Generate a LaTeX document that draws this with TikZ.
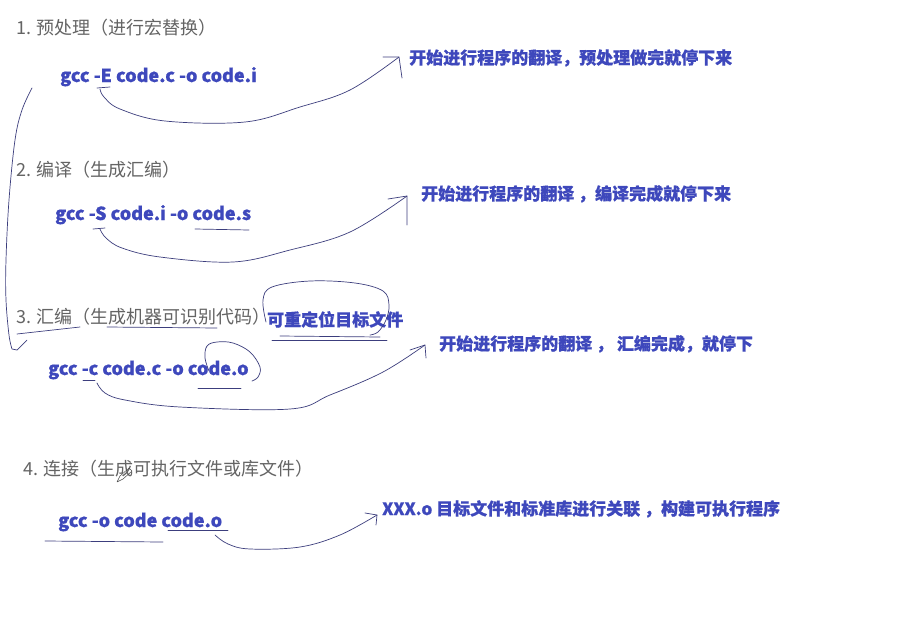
\documentclass[tikz,border=0pt]{standalone}
\usepackage{fontspec}
\setmainfont{Noto Sans CJK SC}[BoldFeatures={FakeBold=0.6}]
\usepackage{xcolor}
\usepackage{tikz}

\begin{document}
\begin{tikzpicture}[x=1pt,y=-1pt,
  heading/.style={anchor=base west,inner sep=0pt,text=hgray,font=\fontsize{18}{20}\selectfont},
  cmd/.style={anchor=base west,inner sep=0pt,text=tblue,font=\bfseries\fontsize{18}{20}\selectfont},
  note/.style={anchor=base west,inner sep=0pt,text=tblue,font=\bfseries\fontsize{17}{19}\selectfont},
  pen/.style={draw=pblue,line width=0.7pt,line cap=round,line join=round}]
  \definecolor{hgray}{RGB}{100,100,100}
  \definecolor{tblue}{RGB}{62,72,188}
  \definecolor{pblue}{RGB}{60,62,125}
  \fill[white] (0,0) rectangle (902,627);
  \useasboundingbox (0,0) rectangle (902,627);
  % the four steps
  \node[heading] (h1) at (16,34)  {1. 预处理（进行宏替换）};
  \node[heading] (h2) at (16,176) {2. 编译（生成汇编）};
  \node[heading] (h3) at (16,323) {3. 汇编（生成机器可识别代码）};
  \node[heading] (h4) at (23,475) {4. 连接（生成可执行文件或库文件）};
  % commands
  \node[cmd] (c1) at (60,82)  {gcc -E code.c -o code.i};
  \node[cmd] (c2) at (55,220) {gcc -S code.i -o code.s};
  \node[cmd] (c3) at (48,375) {gcc -c code.c -o code.o};
  \node[cmd] (c4) at (58,527) {gcc -o code code.o};
  % notes
  \node[note] (n1) at (409,64)  {开始进行程序的翻译，预处理做完就停下来};
  \node[note] (n2) at (421,200) {开始进行程序的翻译 ，编译完成就停下来};
  \node[note] (n3) at (439,350) {开始进行程序的翻译 ， 汇编完成，就停下};
  \node[note] (n4) at (382,515) {XXX.o 目标文件和标准库进行关联 ，构建可执行程序};
  \node[note] (r3) at (267,326) {可重定位目标文件};
  % arrow ends
  \coordinate (s1) at (100,89);  \coordinate (t1) at (399,57);
  \coordinate (s2) at (100,229); \coordinate (t2) at (407,196);
  \coordinate (s3) at (97,383);  \coordinate (t3) at (425,345);
  \coordinate (s4) at (215,535); \coordinate (t4) at (377,515);
  % hand drawn arrows
  \draw[pen] plot[smooth,tension=0.6] coordinates {(s1) (104,97) (120,109) (165,121) (245,122) (300,107) (350,90) (t1)};
  \draw[pen] (383,57) -- (t1) -- (402,78);
  \draw[pen] plot[smooth,tension=0.6] coordinates {(s2) (106,238) (122,248) (160,257) (233,262) (290,250) (350,232) (t2)};
  \draw[pen] (388,199) -- (t2) -- (407,225);
  \draw[pen] plot[smooth,tension=0.6] coordinates {(s3) (105,393) (125,400) (180,407) (290,409) (330,395) (383,372) (t3)};
  \draw[pen] (410,350) -- (t3) -- (426,358);
  \draw[pen] plot[smooth,tension=0.6] coordinates {(s4) (228,544) (250,549) (300,547) (340,535) (t4)};
  \draw[pen] (365,513) -- (t4) -- (376,525);
  % underlines
  \draw[pen] (97,88) -- (110,87);
  \draw[pen] (93,229) -- (105,228);
  \draw[pen] (195,229) -- (249,230);
  \draw[pen] (17,334) -- (80,327);
  \draw[pen] (107,327) -- (217,328);
  \draw[pen] (272,340) -- (387,340);
  \draw[pen] (280,336) -- (380,337);
  \draw[pen] (83,380) -- (95,380);
  \draw[pen] (198,388) -- (241,388);
  \draw[pen] (45,541) -- (163,542);
  \draw[pen] (168,530) -- (228,530);
  % left bracket
  \draw[pen] plot[smooth,tension=0.6] coordinates {(32,88) (22,110) (15,140) (9,200) (6,260) (6,300) (9,335) (12,349)} -- (17,350) -- (27,340);
  % loops
  \draw[pen] plot[smooth,tension=0.6] coordinates {(266,322) (263,300) (272,287) (310,281) (355,283) (383,291) (389,305) (386,320) (378,332) (370,335)};
  \draw[pen] plot[smooth,tension=0.6] coordinates {(209,371) (205,358) (207,346) (217,342) (233,343) (250,352) (260,367) (258,377) (252,381)};
  % pen cursor
  \draw[pen,draw=black!70,line width=0.5pt] (117,482) -- (120,476) -- (129,468) -- (132,471) -- (123,479) -- cycle;
\end{tikzpicture}
\end{document}
